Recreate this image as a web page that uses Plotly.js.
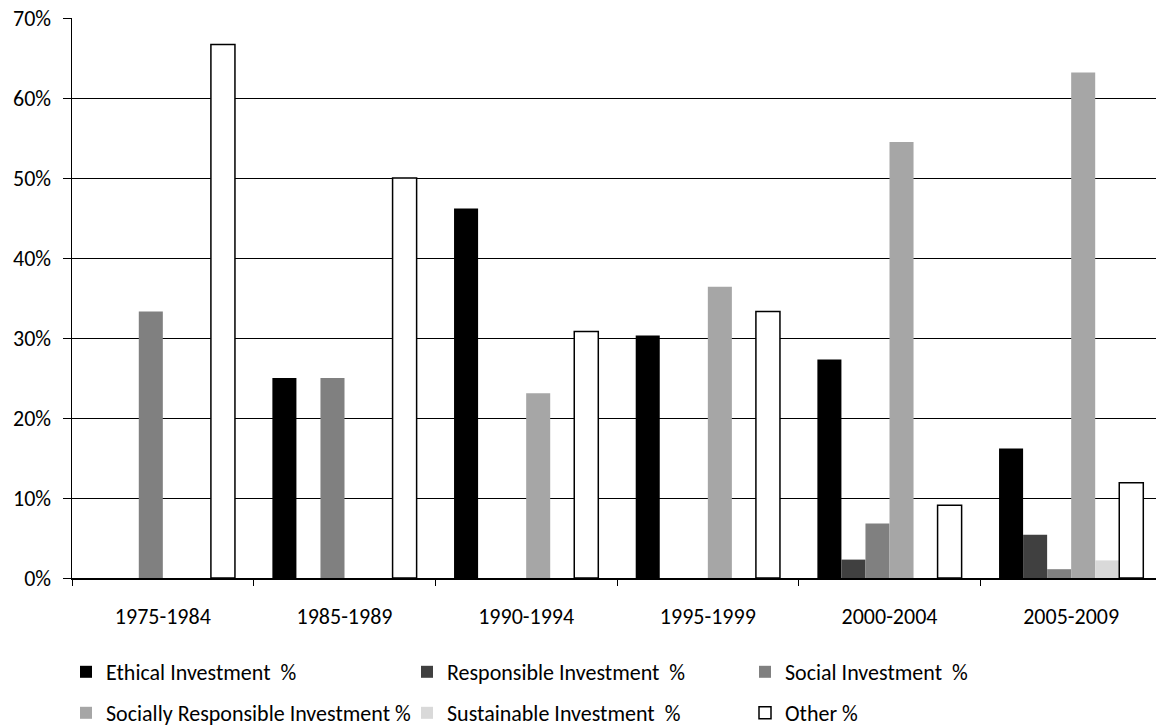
<!DOCTYPE html>
<html>
<head>
<meta charset="utf-8">
<script src="https://cdn.plot.ly/plotly-3.0.1.min.js"></script>
<style>html,body{margin:0;padding:0;background:#fff;width:1156px;height:726px;overflow:hidden;}#chart{width:1170px;height:780px;}</style>
</head>
<body>
<div id="chart"></div>
<script>
const categories = ["1975-1984", "1985-1989", "1990-1994", "1995-1999", "2000-2004", "2005-2009"];
const ethical = [0, 25, 46.2, 30.3, 27.3, 16.2];
const responsible = [0, 0, 0, 0, 2.3, 5.4];
const social = [33.3, 25, 0, 0, 6.8, 1.1];
const sociallyResponsible = [0, 0, 23.1, 36.4, 54.5, 63.2];
const sustainable = [0, 0, 0, 0, 0, 2.2];
const other = [66.7, 50, 30.8, 33.3, 9.1, 11.9];
const seriesNames = ["Ethical Investment  %", "Responsible Investment  %", "Social Investment  %",
  "Socially Responsible Investment %", "Sustainable Investment  %", "Other %"];

const FONT = "Carlito, Calibri, 'Noto Sans', sans-serif";
const series = [ethical, responsible, social, sociallyResponsible, sustainable, other];
const fills = ["#000000", "#404040", "#808080", "#a6a6a6", "#d9d9d9", "#ffffff"];
const lines = ["#000000", "#404040", "#808080", "#a6a6a6", "#d9d9d9", "#000000"];
const lineW = [0, 0, 0, 0, 0, 1.5];
const legendIds = ["legend", "legend2", "legend3", "legend4", "legend5", "legend6"];

const traces = series.map((vals, i) => ({
  type: "bar",
  name: seriesNames[i],
  x: categories,
  y: vals,
  marker: {color: fills[i], line: {color: lines[i], width: lineW[i]}},
  legend: legendIds[i],
  hoverinfo: "x+y+name"
}));

const W = 1170, H = 780;
const L = 72, R = 1162, T = 18, B = 578;
const px = v => (v - L) / (R - L);
const py = v => (B - v) / (B - T);
// text start x, row centre y
const legendPos = [[107, 672], [448, 672], [786, 672], [107, 713], [448, 713], [786, 713]];

const layout = {
  width: W, height: H,
  margin: {l: L, r: W - R, t: T, b: H - B, pad: 0},
  paper_bgcolor: "#ffffff", plot_bgcolor: "#ffffff",
  font: {family: FONT, size: 22, color: "#000000"},
  barmode: "group", bargap: 0.206, bargroupgap: 0,
  showlegend: true,
  xaxis: {
    type: "category", showline: true, linecolor: "#000000", linewidth: 1.5,
    ticks: "outside", ticklen: 6, tickcolor: "#000000", tickwidth: 1,
    tickson: "boundaries", showgrid: false, zeroline: false,
    ticklabelstandoff: 18,
    tickfont: {family: FONT, size: 22}
  },
  yaxis: {
    range: [0, 70], dtick: 10, ticksuffix: "%", showline: true, linecolor: "#000000", linewidth: 1.5,
    ticks: "outside", ticklen: 8, tickcolor: "#000000", tickwidth: 1,
    showgrid: true, gridcolor: "#000000", gridwidth: 1, zeroline: false,
    ticklabelstandoff: 7,
    tickfont: {family: FONT, size: 22}
  }
};
legendIds.forEach((id, i) => {
  layout[id] = {
    x: px(legendPos[i][0] - 41), y: py(legendPos[i][1]), xanchor: "left", yanchor: "middle",
    orientation: "h", bgcolor: "rgba(0,0,0,0)", borderwidth: 0,
    font: {family: FONT, size: 22}, itemwidth: 30, tracegroupgap: 0
  };
});

Plotly.newPlot("chart", traces, layout, {displayModeBar: false, staticPlot: true});
</script>
</body>
</html>
